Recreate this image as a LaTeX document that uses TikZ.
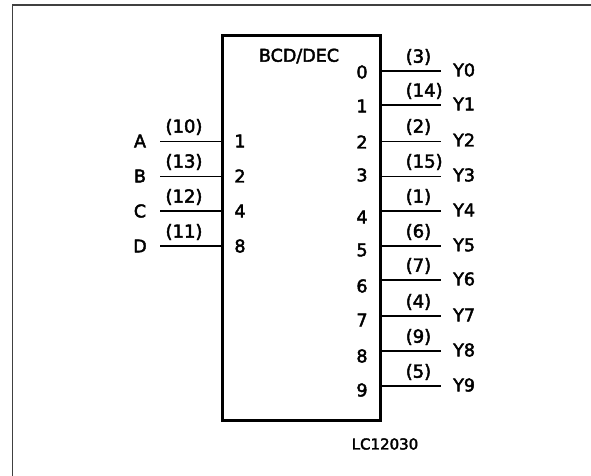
\documentclass[tikz,border=0pt]{standalone}
\usepackage{fontspec}
\setmainfont{DejaVu Sans}[FakeBold=2.5]
\tikzset{
  x=1pt,y=-1pt,
  lab/.style={inner sep=0pt,font=\fontsize{17.5}{17.5}\selectfont,text=black},
  pin/.style={inner sep=0pt,font=\fontsize{18}{18}\selectfont,text=black},
  small/.style={inner sep=0pt,font=\fontsize{15}{15}\selectfont,text=black},
  thinw/.style={line width=1pt,black},
  midw/.style={line width=1.6pt,black},
  thickw/.style={line width=2.5pt,black},
  body/.style={draw=black,line width=3pt,minimum width=158pt,minimum height=384.5pt,inner sep=0pt,outer sep=0pt,anchor=north west},
  frameline/.style={line width=1.2pt,black!75}
}
\begin{document}
\begin{tikzpicture}
\useasboundingbox (0,0) rectangle (591,476);
\coordinate (f0) at (12.5,476);
\coordinate (f1) at (12.5,5);
\coordinate (f2) at (591,5);
\draw[frameline] (f0) -- (f1) -- (f2);
\node[body] (ic) at (222,36) {};
\node[lab] (title) at (299,56) {BCD/DEC};
\node[small] (code) at (385,444) {LC12030};
% inputs
\foreach \nm/\y/\w/\pn/\iname in {A/141/thinw/(10)/1,B/176/thinw/(13)/2,C/211/thickw/(12)/4,D/246/midw/(11)/8}{
  \coordinate (a\nm) at (160,\y);
  \coordinate (b\nm) at (222,\y);
  \draw[\w] (a\nm) -- (b\nm);
  \node[lab] (l\nm) at (140,\y) {\nm};
  \node[pin] (p\nm) at (184,\y-14) {\pn};
  \node[lab] (i\nm) at (240,\y) {\iname};
}
% outputs
\foreach \n/\y/\ty/\w/\pn in {0/71/72/midw/(3),1/105/106/thickw/(14),2/141/142/thinw/(2),3/176/175/thinw/(15),4/211/217/thickw/(1),5/246/250/midw/(6),6/280/286/thickw/(7),7/316/320/midw/(4),8/351/356/midw/(9),9/386/390/midw/(5)}{
  \coordinate (s\n) at (380,\y);
  \coordinate (e\n) at (441,\y);
  \draw[\w] (s\n) -- (e\n);
  \node[lab] (o\n) at (362,\ty) {\n};
  \node[pin,anchor=west] (q\n) at (405.5,\y-14) {\pn};
  \node[lab,anchor=west] (y\n) at (453,\y-1) {Y\n};
}
\end{tikzpicture}
\end{document}
